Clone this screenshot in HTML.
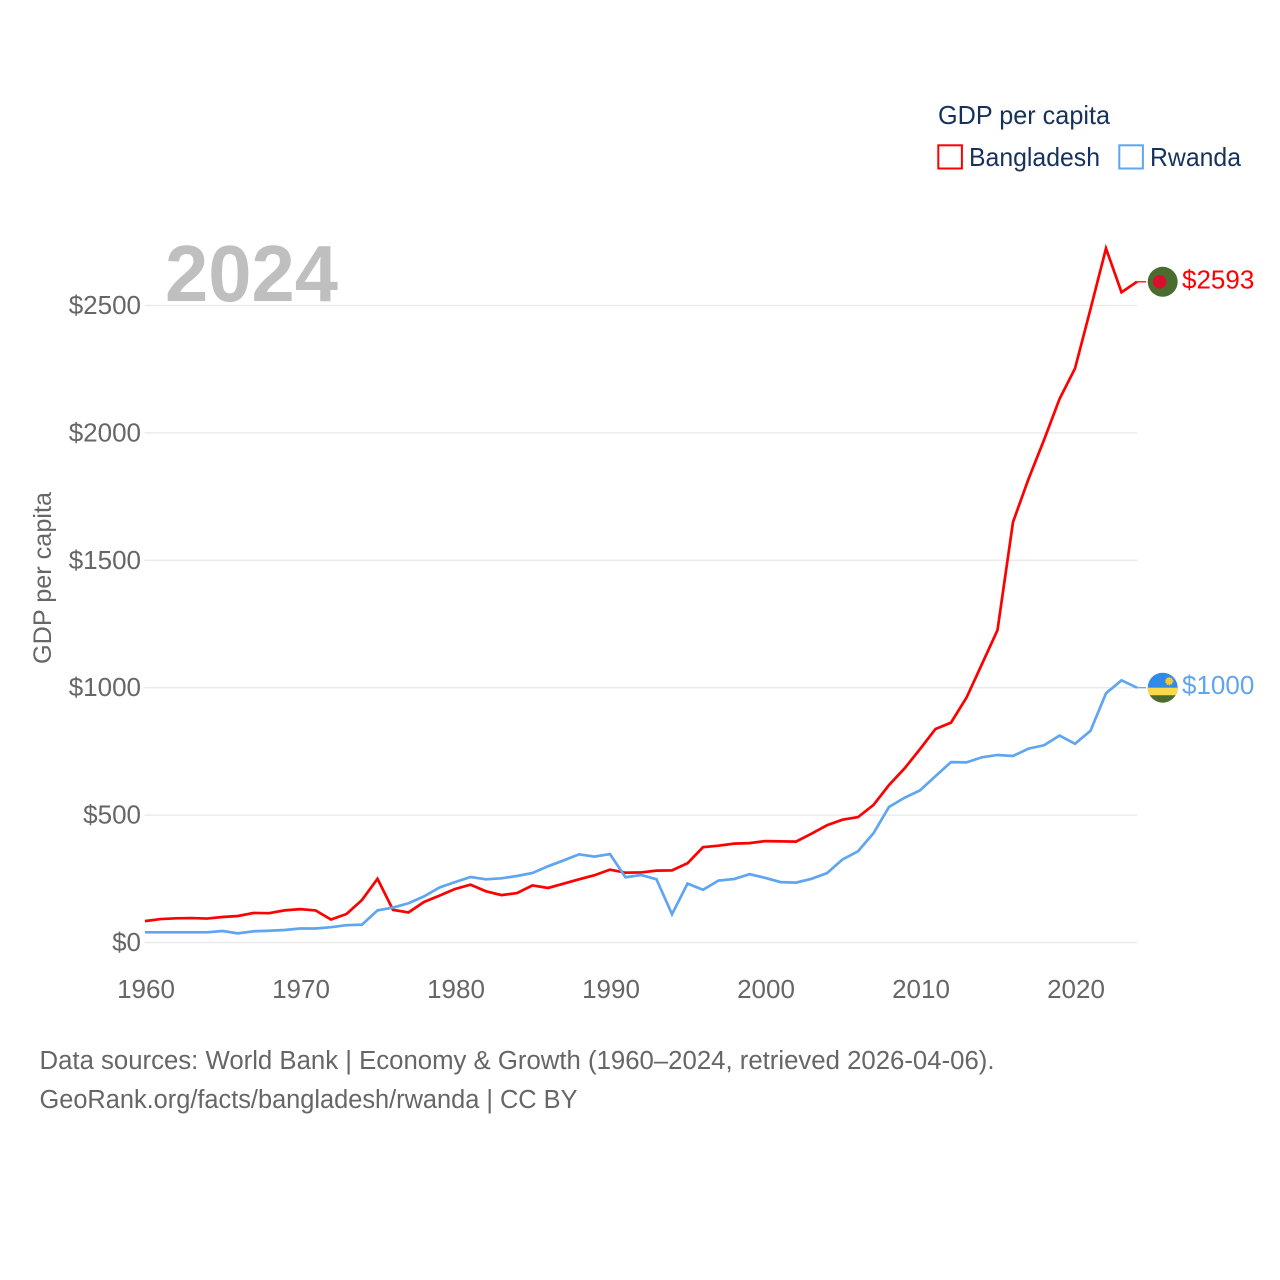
<!DOCTYPE html>
<html lang="en">
<head>
<meta charset="utf-8">
<title>GDP per capita: Bangladesh and Rwanda</title>
<style>
html,body{margin:0;padding:0;background:#fff;}
svg{display:block;}
text{font-family:"Liberation Sans",sans-serif;}
</style>
</head>
<body>
<svg id="chart" width="1280" height="1280" viewBox="0 0 1280 1280" xmlns="http://www.w3.org/2000/svg">
  <rect x="0" y="0" width="1280" height="1280" fill="#ffffff"/>
  <g id="grid"></g>
  <text x="165" y="301" font-size="80" font-weight="700" fill="#bfbfbf" textLength="173" lengthAdjust="spacingAndGlyphs">2024</text>
  <g id="yticks"></g>
  <g id="xticks"></g>
  <text transform="translate(51,664) rotate(-90)" x="0" y="0" font-size="25" fill="#666666" textLength="172" lengthAdjust="spacingAndGlyphs">GDP per capita</text>
  <g id="series"></g>
  <g>
    <text x="938" y="124" font-size="26" fill="#16325c" textLength="172" lengthAdjust="spacingAndGlyphs">GDP per capita</text>
    <g>
      <rect x="938.3" y="145.3" width="23.6" height="23.2" fill="none" stroke="#ff0000" stroke-width="2"/>
      <text x="969" y="166" font-size="26" fill="#16325c" textLength="131" lengthAdjust="spacingAndGlyphs">Bangladesh</text>
    </g>
    <g>
      <rect x="1119.3" y="145.3" width="23.6" height="23.2" fill="none" stroke="#5fa5ef" stroke-width="2"/>
      <text x="1150" y="166" font-size="26" fill="#16325c" textLength="91" lengthAdjust="spacingAndGlyphs">Rwanda</text>
    </g>
  </g>
  <text x="39.5" y="1069" font-size="25.5" fill="#666666" textLength="955" lengthAdjust="spacingAndGlyphs">Data sources: World Bank | Economy &amp; Growth (1960–2024, retrieved 2026-04-06).</text>
  <text x="39.5" y="1108" font-size="25.5" fill="#666666" textLength="538" lengthAdjust="spacingAndGlyphs">GeoRank.org/facts/bangladesh/rwanda | CC BY</text>
</svg>
<script>
const years = [1960,1961,1962,1963,1964,1965,1966,1967,1968,1969,1970,1971,1972,1973,1974,1975,1976,1977,1978,1979,1980,1981,1982,1983,1984,1985,1986,1987,1988,1989,1990,1991,1992,1993,1994,1995,1996,1997,1998,1999,2000,2001,2002,2003,2004,2005,2006,2007,2008,2009,2010,2011,2012,2013,2014,2015,2016,2017,2018,2019,2020,2021,2022,2023,2024];
const bangladeshValues = [84,92,95,96,94,100,104,116,115,126,131,126,90,112,167,250,128,118,159,184,210,227,201,186,194,224,214,231,248,264,286,274,275,282,283,311,374,380,388,390,398,397,396,427,460,482,492,540,618,683,759,838,863,961,1093,1226,1650,1819,1972,2133,2253,2486,2724,2552,2593];
const rwandaValues = [40,40,40,40,40,45,36,44,46,49,55,55,60,68,70,126,137,154,181,216,237,257,248,252,261,273,299,322,346,337,347,256,265,248,111,231,207,243,249,268,254,237,235,250,272,326,358,429,532,568,597,653,708,707,727,736,732,761,774,812,780,831,978,1029,1000];
const yTickValues = [0,500,1000,1500,2000,2500];
const xTickValues = [1960,1970,1980,1990,2000,2010,2020];

const NS = 'http://www.w3.org/2000/svg';
const xScale = function (year) { return 145 + (year - 1960) * 15.5; };
const yScale = function (value) { return 942.5 - value * 0.2548; };
const make = function (tag, parent) {
  const el = document.createElementNS(NS, tag);
  parent.appendChild(el);
  return el;
};

const gridGroup = document.getElementById('grid');
const yTickGroup = document.getElementById('yticks');
yTickValues.forEach(function (value) {
  const gridLine = make('line', gridGroup);
  
  
  gridLine.setAttribute('x1', 144.5);
  gridLine.setAttribute('x2', 1137.5);
  gridLine.setAttribute('y1', yScale(value));
  gridLine.setAttribute('y2', yScale(value));
  gridLine.setAttribute('stroke', '#e9e9e9');
  gridLine.setAttribute('stroke-width', value === 0 ? 1.6 : 1.3);

  const tick = make('text', yTickGroup);
  
  
  tick.setAttribute('x', 141);
  tick.setAttribute('y', yScale(value) + 8.5);
  tick.setAttribute('text-anchor', 'end');
  tick.setAttribute('font-size', 26);
  tick.setAttribute('fill', '#666666');
  tick.textContent = '$' + value;
});

const xTickGroup = document.getElementById('xticks');
xTickValues.forEach(function (year) {
  const tick = make('text', xTickGroup);
  
  
  tick.setAttribute('x', xScale(year) + 1);
  tick.setAttribute('y', 998);
  tick.setAttribute('text-anchor', 'middle');
  tick.setAttribute('font-size', 26);
  tick.setAttribute('fill', '#666666');
  tick.textContent = String(year);
});

const seriesGroup = document.getElementById('series');

function drawSeries(values, color, key) {
  const line = make('polyline', seriesGroup);
  
  
  line.setAttribute('fill', 'none');
  line.setAttribute('stroke', color);
  line.setAttribute('stroke-width', 2.7);
  line.setAttribute('stroke-linejoin', 'miter');
  line.setAttribute('points', values.map(function (v, i) {
    return xScale(years[i]).toFixed(2) + ',' + yScale(v).toFixed(2);
  }).join(' '));

  const last = values[values.length - 1];
  const lastX = xScale(years[years.length - 1]);
  const connector = make('line', seriesGroup);
  
  
  connector.setAttribute('x1', lastX);
  connector.setAttribute('x2', lastX + 9);
  connector.setAttribute('y1', yScale(last));
  connector.setAttribute('y2', yScale(last));
  connector.setAttribute('stroke', color);
  connector.setAttribute('stroke-width', 1.3);

  const label = make('text', seriesGroup);
  
  
  label.setAttribute('x', 1182);
  label.setAttribute('y', yScale(last) + 6.5);
  label.setAttribute('font-size', 26);
  label.setAttribute('fill', color);
  label.textContent = '$' + last;
  return yScale(last);
}

function drawBangladeshFlag(cy) {
  const g = make('g', seriesGroup);
  
  
  const field = make('circle', g);
  field.setAttribute('cx', 1162.7);
  field.setAttribute('cy', cy);
  field.setAttribute('r', 15);
  field.setAttribute('fill', '#4a6d2f');
  const disc = make('circle', g);
  disc.setAttribute('cx', 1159.6);
  disc.setAttribute('cy', cy);
  disc.setAttribute('r', 6.8);
  disc.setAttribute('fill', '#d80f2d');
}

function drawRwandaFlag(cy) {
  const g = make('g', seriesGroup);
  
  
  const r = 15;
  const cx = 1162.7;
  const blue = make('path', g);
  blue.setAttribute('d', 'M' + (cx - r) + ' ' + cy + 'A' + r + ' ' + r + ' 0 0 1 ' + (cx + r) + ' ' + cy + 'Z');
  blue.setAttribute('fill', '#2f8bea');
  const green = make('path', g);
  green.setAttribute('d', 'M' + (cx - r) + ' ' + cy + 'A' + r + ' ' + r + ' 0 0 0 ' + (cx + r) + ' ' + cy + 'Z');
  green.setAttribute('fill', '#4a6d2f');
  const dy = 7.5;
  const halfWidth = Math.sqrt(r * r - dy * dy);
  const yellow = make('path', g);
  yellow.setAttribute('d', 'M' + (cx - r) + ' ' + cy + 'L' + (cx + r) + ' ' + cy + 'A' + r + ' ' + r + ' 0 0 1 ' + (cx + halfWidth) + ' ' + (cy + dy) + 'L' + (cx - halfWidth) + ' ' + (cy + dy) + 'A' + r + ' ' + r + ' 0 0 1 ' + (cx - r) + ' ' + cy + 'Z');
  yellow.setAttribute('fill', '#fbd84a');
  const sun = make('circle', g);
  sun.setAttribute('cx', cx + 6.5);
  sun.setAttribute('cy', cy - 6.5);
  sun.setAttribute('r', 3.4);
  sun.setAttribute('fill', '#f6c93c');
  sun.setAttribute('stroke', '#f6c93c');
  sun.setAttribute('stroke-width', 1.6);
  sun.setAttribute('stroke-dasharray', '1.2 1');
}

const redEndY = drawSeries(bangladeshValues, '#ff0000', 'bangladesh');
const blueEndY = drawSeries(rwandaValues, '#5fa5ef', 'rwanda');
drawBangladeshFlag(redEndY);
drawRwandaFlag(blueEndY);
</script>
</body>
</html>
